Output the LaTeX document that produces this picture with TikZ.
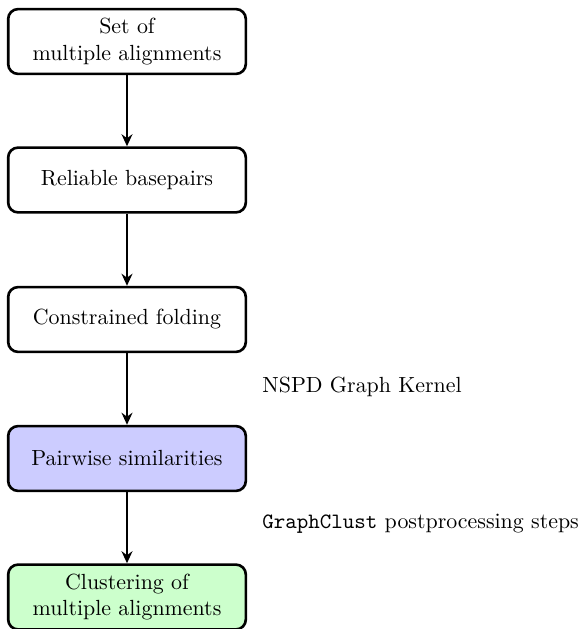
\documentclass[tikz,border=0pt]{standalone}
\usetikzlibrary{arrows.meta}
\begin{document}
\begin{tikzpicture}[x=0.4566pt,y=-0.4566pt,
  box/.style={draw, line width=1.2pt, rounded corners=4.5pt, fill=white,
    minimum width=108.5pt, minimum height=29.6pt, align=center, inner sep=2pt},
  conn/.style={line width=0.8pt, -{Stealth[length=5.5pt,width=5pt,inset=1.8pt]}},
  lbl/.style={anchor=base west, inner sep=0pt}]
\useasboundingbox (0,0) rectangle (584,629);
\node[box] (a) at (127,41.5) {Set of\\multiple alignments};
\node[box] (b) at (127,180) {Reliable basepairs};
\node[box] (c) at (127,319.5) {Constrained folding};
\node[box, fill=blue!20] (d) at (127,458.5) {Pairwise similarities};
\node[box, fill=green!20] (e) at (127,597) {Clustering of\\multiple alignments};
\draw[conn] (a) -- (b);
\draw[conn] (b) -- (c);
\draw[conn] (c) -- (d);
\draw[conn] (d) -- (e);
\node[lbl] (l1) at (262,392) {NSPD Graph Kernel};
\node[lbl] (l2) at (262,528) {\texttt{GraphClust} postprocessing steps};
\end{tikzpicture}
\end{document}
